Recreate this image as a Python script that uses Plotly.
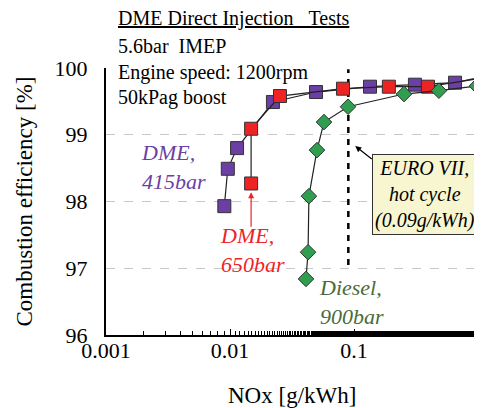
import plotly.graph_objects as go
import math

# ---- data ----
dme415_nox = [0.0090, 0.0096, 0.0114, 0.0222, 0.0494, 0.1346, 0.31, 0.653, 1.5]
dme415_eff = [97.93, 98.49, 98.80, 99.49, 99.64, 99.72, 99.75, 99.78, 99.92]

dme650_nox = [0.0148, 0.0148, 0.0253, 0.0815, 0.191, 0.395, 1.5]
dme650_eff = [98.27, 99.09, 99.58, 99.69, 99.72, 99.72, 99.89]

diesel_nox = [0.0410, 0.0426, 0.0433, 0.0503, 0.0573, 0.0895, 0.253, 0.484, 0.98]
diesel_eff = [96.84, 97.24, 98.08, 98.77, 99.19, 99.42, 99.61, 99.66, 99.73]

euro7_nox = [0.09, 0.09]
euro7_eff = [97.05, 99.98]

x_ticks = [0.001, 0.01, 0.1, 1]
x_tick_labels = ["0.001", "0.01", "0.1", "1"]
y_ticks = [96, 97, 98, 99, 100]

FONT = "Liberation Serif, Times New Roman, serif"
PURPLE = "#6B3FA3"
RED = "#EE2424"
GREEN = "#2F9E4E"

fig = go.Figure()

fig.add_trace(go.Scatter(x=euro7_nox, y=euro7_eff, mode="lines",
                         line=dict(color="black", width=2.5, dash="6px,6px"),
                         showlegend=False, hoverinfo="skip"))

fig.add_trace(go.Scatter(x=dme415_nox, y=dme415_eff, mode="lines+markers",
                         line=dict(color="#222", width=1.2),
                         marker=dict(symbol="square", size=13, color=PURPLE,
                                     line=dict(color="#333", width=1)),
                         showlegend=False))
fig.add_trace(go.Scatter(x=dme650_nox, y=dme650_eff, mode="lines+markers",
                         line=dict(color="#222", width=1.2),
                         marker=dict(symbol="square", size=13, color=RED,
                                     line=dict(color="#333", width=1)),
                         showlegend=False))
fig.add_trace(go.Scatter(x=diesel_nox, y=diesel_eff, mode="lines+markers",
                         line=dict(color="#222", width=1.2),
                         marker=dict(symbol="diamond", size=12, color=GREEN,
                                     line=dict(color="#333", width=1)),
                         cliponaxis=False, showlegend=False))

# header text
hdr = [("<u>DME Direct Injection\u00a0\u00a0\u00a0Tests</u>", 1.187),
       ("5.6bar\u00a0\u00a0IMEP", 1.082),
       ("Engine speed: 1200rpm", 0.985),
       ("50kPag boost", 0.891)]
for t, yy in hdr:
    fig.add_annotation(x=0.03, y=yy, xref="paper", yref="paper", text=t,
                       showarrow=False, xanchor="left", yanchor="middle",
                       font=dict(family=FONT, size=20, color="black"),
                       bgcolor="white", borderpad=0)

# x-axis title
fig.add_annotation(x=0.5, y=-0.228, xref="paper", yref="paper",
                   text="NOx [g/kWh]", showarrow=False,
                   xanchor="center", yanchor="middle",
                   font=dict(family=FONT, size=23, color="black"))

fig.add_annotation(x=-2.73, y=98.51, xref="x", yref="y",
                   text="<i>DME,<br>415bar</i>", showarrow=False,
                   xanchor="left", yanchor="middle", align="left",
                   font=dict(family=FONT, size=22, color=PURPLE))
fig.add_annotation(x=-2.10, y=97.28, xref="x", yref="y",
                   text="<i>DME,<br>650bar</i>", showarrow=False,
                   xanchor="left", yanchor="middle", align="left",
                   font=dict(family=FONT, size=22, color=RED))
fig.add_annotation(x=-1.30, y=96.50, xref="x", yref="y",
                   text="<i>Diesel,<br>900bar</i>", showarrow=False,
                   xanchor="left", yanchor="middle", align="left",
                   font=dict(family=FONT, size=22, color="#4B6B38"))

# red arrow
fig.add_annotation(x=math.log10(0.0148), y=98.14, xref="x", yref="y", text="",
                   showarrow=True, ax=0, ay=36, arrowhead=2, arrowsize=1,
                   arrowwidth=1.2, arrowcolor=RED)

# EURO VII box
fig.add_annotation(x=-0.43, y=98.10, xref="x", yref="y",
                   text="<i>EURO VII,<br>hot cycle<br>(0.09g/kWh)</i>",
                   showarrow=False, xanchor="center", yanchor="middle",
                   align="center",
                   font=dict(family=FONT, size=20, color="black"),
                   bgcolor="#F8F6D0", bordercolor="#333", borderwidth=1,
                   borderpad=2)
fig.add_annotation(x=-0.99, y=98.83, xref="x", yref="y", text="",
                   showarrow=True, ax=18, ay=14, arrowhead=2, arrowsize=1,
                   arrowwidth=1.2, arrowcolor="black")

# the page adds an 8px body margin, so the figure is 8px smaller and offset
fig.update_layout(
    width=474, height=400,
    margin=dict(l=98, r=4, t=60, b=73),
    plot_bgcolor="white", paper_bgcolor="white",
    font=dict(family=FONT, size=20, color="black"),
)
fig.update_xaxes(type="log", range=[-3, 0], tickvals=x_ticks,
                 ticktext=x_tick_labels, ticks="inside", ticklen=6,
                 tickcolor="black", tickwidth=1.2,
                 minor=dict(ticks="inside", ticklen=4, tickcolor="black",
                            showgrid=False),
                 showline=True, linecolor="black", linewidth=2,
                 showgrid=False, zeroline=False, automargin=False,
                 tickfont=dict(size=22), ticklabelstandoff=-5)
fig.update_yaxes(range=[96, 100], tickvals=y_ticks, ticks="",
                 showline=True, linecolor="black", linewidth=2,
                 showgrid=True, gridcolor="#C8C8C8", griddash="dash",
                 gridwidth=1, zeroline=False, automargin=False,
                 tickfont=dict(size=22), ticklabelstandoff=12,
                 title=dict(text="Combustion efficiency [%]",
                            font=dict(size=23), standoff=16))

fig.write_html("out.html")
